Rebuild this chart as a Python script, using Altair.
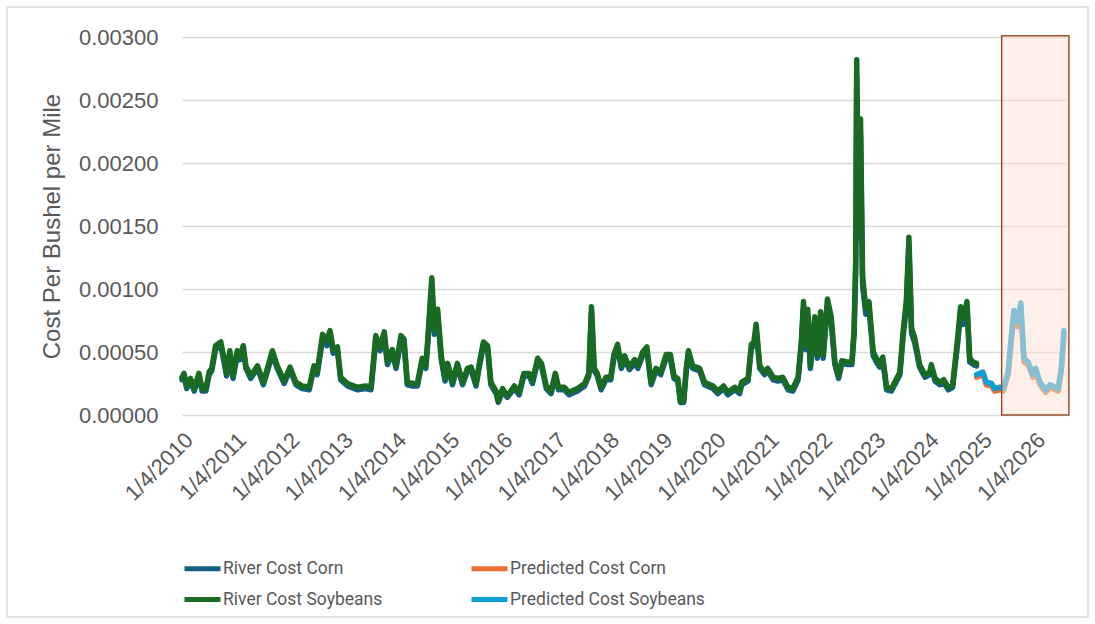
import datetime as dt
import altair as alt
import pandas as pd

# ---------------- data ----------------
hist_t = [2010.00, 2010.04, 2010.09, 2010.16, 2010.23, 2010.32, 2010.38, 2010.45, 2010.51, 2010.56,
          2010.63, 2010.73, 2010.79, 2010.84, 2010.90, 2010.96, 2011.04, 2011.09, 2011.15, 2011.20,
          2011.29, 2011.42, 2011.53, 2011.70, 2011.79, 2011.92, 2012.03, 2012.14, 2012.26, 2012.39,
          2012.48, 2012.54, 2012.64, 2012.72, 2012.78, 2012.84, 2012.92, 2012.98, 2013.11, 2013.30,
          2013.45, 2013.55, 2013.64, 2013.72, 2013.80, 2013.86, 2013.95, 2014.02, 2014.11, 2014.17,
          2014.23, 2014.33, 2014.42, 2014.51, 2014.58, 2014.62, 2014.69, 2014.74, 2014.80, 2014.87,
          2014.94, 2014.99, 2015.08, 2015.17, 2015.27, 2015.36, 2015.43, 2015.52, 2015.60, 2015.66,
          2015.74, 2015.80, 2015.90, 2015.94, 2016.02, 2016.11, 2016.24, 2016.33, 2016.42, 2016.52,
          2016.58, 2016.68, 2016.75, 2016.84, 2016.93, 2017.01, 2017.07, 2017.18, 2017.27, 2017.43,
          2017.56, 2017.64, 2017.69, 2017.74, 2017.80, 2017.87, 2017.96, 2018.05, 2018.11, 2018.18,
          2018.25, 2018.31, 2018.40, 2018.50, 2018.56, 2018.65, 2018.73, 2018.81, 2018.90, 2018.99,
          2019.09, 2019.17, 2019.24, 2019.31, 2019.36, 2019.42, 2019.47, 2019.51, 2019.59, 2019.72,
          2019.81, 2019.97, 2020.06, 2020.17, 2020.25, 2020.38, 2020.47, 2020.51, 2020.63, 2020.69,
          2020.74, 2020.78, 2020.85, 2020.94, 2021.00, 2021.10, 2021.19, 2021.28, 2021.38, 2021.47,
          2021.57, 2021.63, 2021.67, 2021.72, 2021.75, 2021.80, 2021.88, 2021.93, 2021.99, 2022.04,
          2022.12, 2022.19, 2022.26, 2022.33, 2022.39, 2022.51, 2022.58, 2022.62, 2022.65, 2022.67,
          2022.70, 2022.74, 2022.78, 2022.84, 2022.90, 2022.98, 2023.04, 2023.10, 2023.16, 2023.23,
          2023.32, 2023.42, 2023.48, 2023.54, 2023.60, 2023.65, 2023.70, 2023.76, 2023.85, 2023.95,
          2024.04, 2024.07, 2024.14, 2024.23, 2024.30, 2024.39, 2024.47, 2024.57, 2024.62, 2024.67,
          2024.74, 2024.79, 2024.86, 2024.92]

soy_hist = [0.00030, 0.00033, 0.00023, 0.00029, 0.00021, 0.00033, 0.00021, 0.00021, 0.00034, 0.00037,
            0.00055, 0.00058, 0.00045, 0.00033, 0.00051, 0.00031, 0.00051, 0.00047, 0.00055, 0.00039,
            0.00031, 0.00039, 0.00026, 0.00051, 0.00039, 0.00027, 0.00038, 0.00026, 0.00023, 0.00022,
            0.00039, 0.00034, 0.00064, 0.00059, 0.00067, 0.00052, 0.00054, 0.00030, 0.00025, 0.00022,
            0.00023, 0.00022, 0.00063, 0.00054, 0.00066, 0.00042, 0.00052, 0.00039, 0.00063, 0.00060,
            0.00026, 0.00025, 0.00025, 0.00045, 0.00039, 0.00063, 0.00109, 0.00068, 0.00084, 0.00047,
            0.00029, 0.00041, 0.00026, 0.00041, 0.00026, 0.00037, 0.00038, 0.00025, 0.00045, 0.00058,
            0.00055, 0.00026, 0.00019, 0.00011, 0.00021, 0.00015, 0.00023, 0.00018, 0.00033, 0.00033,
            0.00027, 0.00045, 0.00041, 0.00023, 0.00019, 0.00033, 0.00022, 0.00022, 0.00018, 0.00021,
            0.00025, 0.00033, 0.00086, 0.00037, 0.00033, 0.00022, 0.00030, 0.00030, 0.00048, 0.00056,
            0.00039, 0.00047, 0.00038, 0.00044, 0.00039, 0.00050, 0.00054, 0.00026, 0.00037, 0.00034,
            0.00048, 0.00048, 0.00031, 0.00029, 0.00011, 0.00011, 0.00037, 0.00051, 0.00039, 0.00037,
            0.00026, 0.00023, 0.00019, 0.00023, 0.00018, 0.00022, 0.00019, 0.00026, 0.00029, 0.00056,
            0.00058, 0.00072, 0.00039, 0.00034, 0.00037, 0.00030, 0.00029, 0.00030, 0.00022, 0.00021,
            0.00030, 0.00058, 0.00090, 0.00055, 0.00084, 0.00039, 0.00078, 0.00048, 0.00082, 0.00048,
            0.00092, 0.00078, 0.00042, 0.00031, 0.00043, 0.00042, 0.00042, 0.00068, 0.00122, 0.00282,
            0.00150, 0.00235, 0.00110, 0.00085, 0.00090, 0.00050, 0.00045, 0.00040, 0.00046, 0.00022,
            0.00021, 0.00029, 0.00034, 0.00066, 0.00090, 0.00141, 0.00069, 0.00061, 0.00040, 0.00032,
            0.00034, 0.00040, 0.00029, 0.00026, 0.00028, 0.00022, 0.00024, 0.00063, 0.00086, 0.00077,
            0.00090, 0.00045, 0.00042, 0.00041]

corn_hist = [0.00028, 0.00031, 0.00021, 0.00027, 0.00019, 0.00031, 0.00019, 0.00019, 0.00032, 0.00035,
             0.00052, 0.00055, 0.00042, 0.00031, 0.00048, 0.00029, 0.00048, 0.00044, 0.00052, 0.00037,
             0.00029, 0.00037, 0.00024, 0.00048, 0.00037, 0.00025, 0.00036, 0.00024, 0.00021, 0.00020,
             0.00037, 0.00032, 0.00060, 0.00055, 0.00063, 0.00049, 0.00051, 0.00028, 0.00023, 0.00020,
             0.00021, 0.00020, 0.00059, 0.00051, 0.00062, 0.00040, 0.00049, 0.00037, 0.00059, 0.00056,
             0.00024, 0.00023, 0.00023, 0.00042, 0.00037, 0.00059, 0.00102, 0.00064, 0.00079, 0.00044,
             0.00027, 0.00039, 0.00024, 0.00039, 0.00024, 0.00035, 0.00036, 0.00023, 0.00042, 0.00055,
             0.00052, 0.00024, 0.00017, 0.00010, 0.00019, 0.00014, 0.00021, 0.00016, 0.00031, 0.00031,
             0.00025, 0.00042, 0.00039, 0.00021, 0.00017, 0.00031, 0.00020, 0.00020, 0.00016, 0.00019,
             0.00023, 0.00031, 0.00081, 0.00035, 0.00031, 0.00020, 0.00028, 0.00028, 0.00045, 0.00053,
             0.00037, 0.00044, 0.00036, 0.00041, 0.00037, 0.00047, 0.00051, 0.00024, 0.00035, 0.00032,
             0.00045, 0.00045, 0.00029, 0.00027, 0.00010, 0.00010, 0.00035, 0.00048, 0.00037, 0.00035,
             0.00024, 0.00021, 0.00017, 0.00021, 0.00016, 0.00020, 0.00017, 0.00024, 0.00027, 0.00053,
             0.00055, 0.00068, 0.00037, 0.00032, 0.00035, 0.00028, 0.00027, 0.00028, 0.00020, 0.00019,
             0.00028, 0.00055, 0.00085, 0.00052, 0.00079, 0.00037, 0.00073, 0.00045, 0.00077, 0.00045,
             0.00087, 0.00073, 0.00040, 0.00029, 0.00041, 0.00040, 0.00040, 0.00064, 0.00115, 0.00268,
             0.00140, 0.00222, 0.00103, 0.00080, 0.00085, 0.00047, 0.00042, 0.00038, 0.00043, 0.00020,
             0.00019, 0.00027, 0.00032, 0.00062, 0.00085, 0.00133, 0.00065, 0.00057, 0.00038, 0.00030,
             0.00032, 0.00038, 0.00027, 0.00024, 0.00026, 0.00020, 0.00022, 0.00059, 0.00081, 0.00072,
             0.00085, 0.00042, 0.00040, 0.00039]

pred_t = [2024.92, 2025.04, 2025.10, 2025.20, 2025.26, 2025.36, 2025.42, 2025.51, 2025.57, 2025.62,
          2025.69, 2025.75, 2025.81, 2025.89, 2025.98, 2026.03, 2026.11, 2026.22, 2026.30, 2026.45,
          2026.51, 2026.56]

soy_pred = [0.00032, 0.00034, 0.00026, 0.00025, 0.00021, 0.00022, 0.00021, 0.00034, 0.00061, 0.00083,
            0.00074, 0.00089, 0.00045, 0.00042, 0.00032, 0.00037, 0.00026, 0.00020, 0.00024, 0.00021,
            0.00037, 0.00067]

corn_pred = [0.00030, 0.00032, 0.00024, 0.00023, 0.00019, 0.00020, 0.00019, 0.00032, 0.00058, 0.00079,
             0.00070, 0.00085, 0.00042, 0.00040, 0.00030, 0.00035, 0.00024, 0.00018, 0.00022, 0.00019,
             0.00035, 0.00064]

# legend is laid out column by column: col 1 = River..., col 2 = Predicted...
legend_order = ["River Cost Corn", "River Cost Soybeans", "Predicted Cost Corn", "Predicted Cost Soybeans"]
legend_colors = ["#156082", "#196B24", "#E97132", "#0F9ED5"]

y_ticks = [0.0, 0.0005, 0.001, 0.0015, 0.002, 0.0025, 0.003]
tick_years = list(range(2010, 2027))

forecast_start_t = 2025.39
axis_end_t = 2026.617
box_end_t = 2026.654
box_top = 0.00301

# ---------------- helpers ----------------
BASE = dt.datetime(2010, 1, 4)


def to_date(t):
    return BASE + dt.timedelta(days=(t - 2010.0) * 365.25)


def iso(t):
    return to_date(t).strftime("%Y-%m-%d")


rows = []
# drawing order: corn first, soybeans on top
for name, ts, vals in [
    ("River Cost Corn", hist_t, corn_hist),
    ("Predicted Cost Corn", pred_t, corn_pred),
    ("River Cost Soybeans", hist_t, soy_hist),
    ("Predicted Cost Soybeans", pred_t, soy_pred),
]:
    for i, (t, v) in enumerate(zip(ts, vals)):
        rows.append({"date": iso(t), "value": v, "series": name, "order": i})
df = pd.DataFrame(rows)

end_d = to_date(axis_end_t)
x_scale = alt.Scale(
    type="utc",
    domain=[alt.DateTime(year=2010, month=1, date=4, utc=True),
            alt.DateTime(year=end_d.year, month=end_d.month, date=end_d.day, utc=True)],
)

FONT = "Liberation Sans"
GREY = "#595959"

lines = alt.Chart(df).mark_line(strokeWidth=5.5, strokeCap="round", strokeJoin="round").encode(
    x=alt.X("date:T", scale=x_scale, title=None,
            axis=alt.Axis(values=[alt.DateTime(year=y, month=1, date=4, utc=True) for y in tick_years],
                          format="%-m/%-d/%Y", labelAngle=-45, labelFontSize=22, labelFont=FONT,
                          labelColor=GREY, labelPadding=14, ticks=False, tickSize=0, domain=False,
                          grid=False, labelOverlap=False, labelBound=False, labelFlush=False)),
    y=alt.Y("value:Q", scale=alt.Scale(domain=[0, 0.003], nice=False, zero=True),
            title="Cost Per Bushel per Mile",
            axis=alt.Axis(values=y_ticks, format=".5f", labelFontSize=22, labelFont=FONT,
                          labelColor=GREY, labelPadding=24, ticks=False, tickSize=0, domain=False,
                          grid=True, gridColor="#D9D9D9", gridWidth=1.5,
                          titleFont=FONT, titleFontSize=24, titleFontWeight="normal", titleColor=GREY,
                          titleX=-130, titleY=189, titleAngle=270, titleAlign="center",
                          titleBaseline="middle")),
    color=alt.Color("series:N", scale=alt.Scale(domain=legend_order, range=legend_colors),
                    legend=alt.Legend(title=None, orient="none", legendX=0, legendY=511, columns=2,
                                      columnPadding=78, rowPadding=-10, symbolType="stroke",
                                      symbolSize=1296, symbolStrokeWidth=5, labelFont="Roboto",
                                      labelFontSize=17.5, labelColor=GREY, labelOffset=0, padding=0,
                                      labelLimit=400)),
    detail="series:N",
    order="order:Q",
)

box_df = pd.DataFrame([{"start": iso(forecast_start_t), "end": iso(box_end_t), "y0": 0.0, "y1": box_top}])
box = alt.Chart(box_df).mark_rect(fill="#FBE2D5", fillOpacity=0.5, stroke="#9C4F2A", strokeWidth=1.5).encode(
    x=alt.X("start:T", scale=x_scale),
    x2="end:T",
    y=alt.Y("y0:Q", scale=alt.Scale(domain=[0, 0.003], nice=False)),
    y2="y1:Q",
)

frame = alt.Chart(pd.DataFrame([{"a": 0}])).mark_rect(fill=None, stroke="#D9D9D9", strokeWidth=1.5).encode(
    x=alt.value(-175), x2=alt.value(906), y=alt.value(-30), y2=alt.value(580)
)

chart = alt.layer(frame, lines, box).properties(
    width=885, height=378,
    padding={"left": 182, "top": 37, "right": 28, "bottom": 209},
    autosize=alt.AutoSizeParams(type="none"),
    background="white",
).configure_view(stroke=None)

chart.save("out.html", embed_options={"renderer": "svg", "actions": False})
